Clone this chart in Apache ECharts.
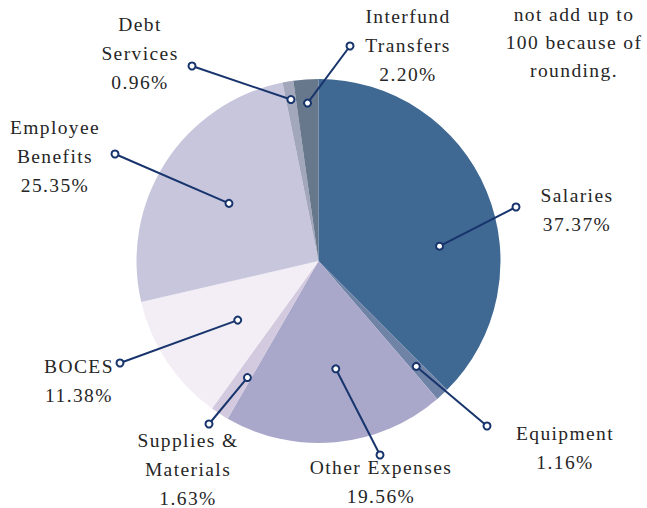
<!DOCTYPE html>
<html><head><meta charset="utf-8">
<script src="https://cdn.jsdelivr.net/npm/echarts@6/dist/echarts.min.js"></script>
<style>
html,body{margin:0;padding:0;background:#fff;}
#c{width:647px;height:508px;}
#c text{letter-spacing:1.4px;}
</style>
</head><body><div id="c"></div>
<script>
// ---- data ----
const categories = ['Salaries','Equipment','Other Expenses','Supplies & Materials','BOCES','Employee Benefits','Debt Services','Interfund Transfers'];
const percentages = [37.37, 1.16, 19.56, 1.63, 11.38, 25.35, 0.96, 2.20];
const labelNameLines = [['Salaries'],['Equipment'],['Other Expenses'],['Supplies &','Materials'],['BOCES'],['Employee','Benefits'],['Debt','Services'],['Interfund','Transfers']];
const noteLines = ['not add up to','100 because of','rounding.'];

// ---- styles / layout ----
const sliceColors = ['#3f6893','#6e83a6','#a9a8cb','#d3cadf','#f3eef5','#c8c6dd','#a2a7bb','#67788d'];
const navy = '#17346c';
const textColor = '#262626';
const fontFamily = '"Liberation Serif", "DejaVu Serif", serif';
const fontSize = 19.5;
const lineH = 29;
// tx,ty: label block centre; ox,oy: outer leader point; f: inner point radial fraction; da: angle offset (deg)
const labelLayout = [
  {tx:577, ty:210, ox:516, oy:207, f:0.67, da:15.5},
  {tx:565, ty:448, ox:487, oy:426, f:0.79, da:0},
  {tx:381, ty:482, ox:380, oy:455, f:0.60, da:-3.7},
  {tx:188, ty:469, ox:209, oy:424, f:0.75, da:-1.5},
  {tx:79,  ty:381, ox:120, oy:363, f:0.55, da:-2.6},
  {tx:55,  ty:156, ox:115, oy:154, f:0.585, da:0},
  {tx:140, ty:53,  ox:192, oy:66,  f:0.90, da:0},
  {tx:408, ty:45,  ox:350, oy:46,  f:0.87, da:0}
];

const chart = echarts.init(document.getElementById('c'), null, {renderer:'svg'});
chart.setOption({
  animation:false,
  series:[{
    type:'pie',
    center:[318.5, 261],
    radius:182,
    startAngle:90,
    clockwise:true,
    silent:true,
    label:{show:false},
    labelLine:{show:false},
    itemStyle:{borderWidth:0},
    data: categories.map((n,i)=>({name:n, value:percentages[i], itemStyle:{color:sliceColors[i]}}))
  }]
});

// leader lines & labels anchored on the library's own slice layout
const pieData = chart.getModel().getSeriesByIndex(0).getData();
const graphics = [];
categories.forEach((n,i)=>{
  const L = pieData.getItemLayout(i);
  const lay = labelLayout[i];
  const mid = (L.startAngle + L.endAngle)/2 + lay.da*Math.PI/180;
  const ix = L.cx + L.r*lay.f*Math.cos(mid);
  const iy = L.cy + L.r*lay.f*Math.sin(mid);
  graphics.push({type:'line', silent:true, z:10, shape:{x1:ix,y1:iy,x2:lay.ox,y2:lay.oy}, style:{stroke:navy, lineWidth:2}});
  [[ix,iy],[lay.ox,lay.oy]].forEach(p=>{
    graphics.push({type:'circle', silent:true, z:11, shape:{cx:p[0],cy:p[1],r:3.5}, style:{fill:'#fff', stroke:navy, lineWidth:2}});
  });
  const lines = labelNameLines[i].concat([percentages[i].toFixed(2)+'%']);
  graphics.push({type:'text', silent:true, z:12, x:lay.tx, y:lay.ty,
    style:{text:lines.join('\n'), fill:textColor, font: fontSize+'px '+fontFamily, align:'center', verticalAlign:'middle', lineHeight:lineH}});
});
graphics.push({type:'text', silent:true, z:12, x:574, y:42,
  style:{text:noteLines.join('\n'), fill:textColor, font: fontSize+'px '+fontFamily, align:'center', verticalAlign:'middle', lineHeight:28}});
chart.setOption({graphic:graphics});
</script>
</body></html>
